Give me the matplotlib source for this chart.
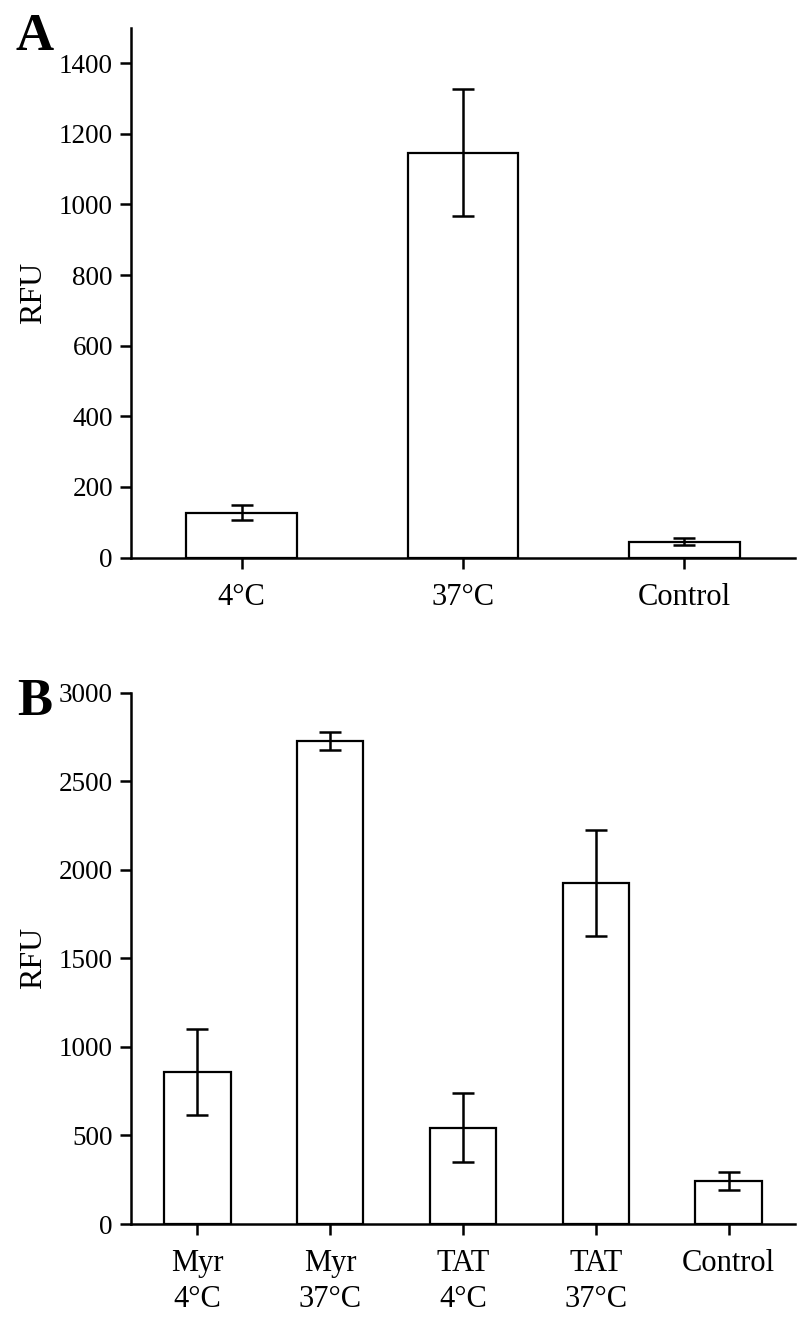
import matplotlib
matplotlib.use("Agg")
import matplotlib.pyplot as plt

# Panel A data
cats_a = ["4°C", "37°C", "Control"]
vals_a = [127, 1147, 45]
err_a = [22, 179, 9]
yticks_a = [0, 200, 400, 600, 800, 1000, 1200, 1400]

# Panel B data
cats_b = ["Myr\n4°C", "Myr\n37°C", "TAT\n4°C", "TAT\n37°C", "Control"]
vals_b = [859, 2725, 544, 1925, 245]
err_b = [245, 51, 196, 298, 51]
yticks_b = [0, 500, 1000, 1500, 2000, 2500, 3000]

plt.rcParams['font.family'] = ['Liberation Serif', 'DejaVu Serif']

fig = plt.figure(figsize=(8, 13.24), dpi=100)
axA = fig.add_axes([0.16375, 0.5789, 0.83, 0.4])
axB = fig.add_axes([0.16375, 0.0755, 0.83, 0.4013])


def draw(ax, cats, vals, errs, yticks, ylim):
    x = list(range(len(cats)))
    ax.bar(x, vals, width=0.5, color='white', edgecolor='black', linewidth=1.6, zorder=2)
    ax.errorbar(x, vals, yerr=errs, fmt='none', ecolor='black', elinewidth=1.8,
                capsize=8, capthick=1.8, zorder=3)
    ax.set_xlim(-0.5, len(cats) - 0.5)
    ax.set_ylim(0, ylim)
    ax.set_xticks(x)
    ax.set_xticklabels(cats, fontsize=22, linespacing=1.3)
    ax.set_yticks(yticks)
    ax.set_yticklabels([str(t) for t in yticks], fontsize=19.5)
    ax.spines['top'].set_visible(False)
    ax.spines['right'].set_visible(False)
    for s in ('left', 'bottom'):
        ax.spines[s].set_linewidth(1.8)
    ax.tick_params(axis='both', direction='out', length=8, width=1.8)
    ax.tick_params(axis='y', pad=5)
    ax.tick_params(axis='x', pad=10)
    ax.set_ylabel("RFU", fontsize=23, labelpad=8)


draw(axA, cats_a, vals_a, err_a, yticks_a, 1500)
draw(axB, cats_b, vals_b, err_b, yticks_b, 3000)

fig.text(0.019, 1 - 50 / 1324, "A", fontsize=38, fontweight='bold', ha='left', va='baseline')
fig.text(0.021, 1 - 715 / 1324, "B", fontsize=38, fontweight='bold', ha='left', va='baseline')

fig.savefig("out.png", dpi=100)
